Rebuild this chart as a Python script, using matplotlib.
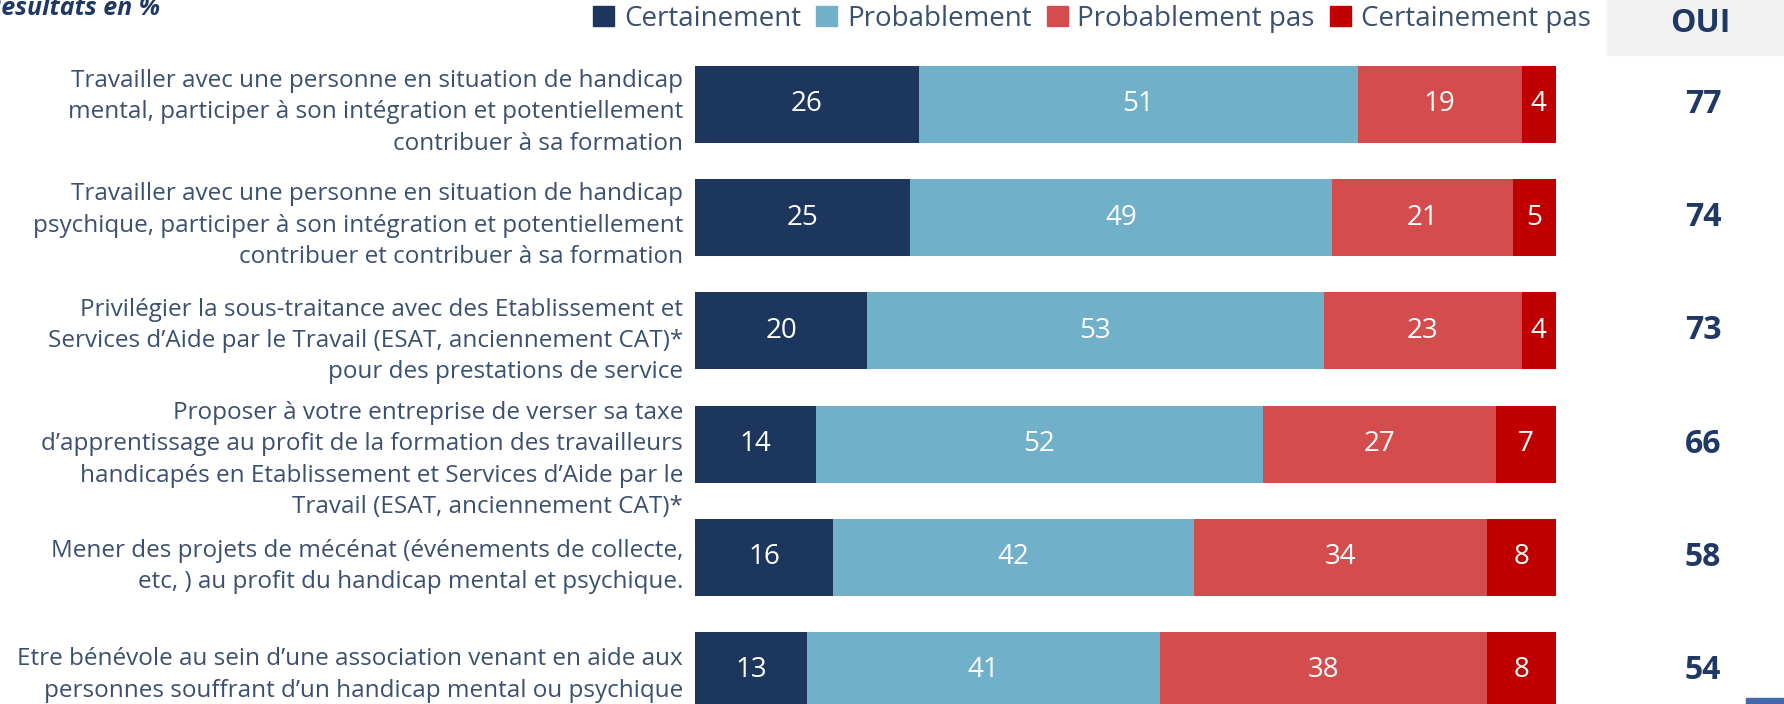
import numpy as np
import matplotlib
matplotlib.use("Agg")
import matplotlib.pyplot as plt
from matplotlib.patches import Patch, Rectangle

plt.rcParams['font.family'] = ['Open Sans', 'DejaVu Sans']

# Data
labels = [
    "Travailler avec une personne en situation de handicap\nmental, participer à son intégration et potentiellement\ncontribuer à sa formation",
    "Travailler avec une personne en situation de handicap\npsychique, participer à son intégration et potentiellement\ncontribuer et contribuer à sa formation",
    "Privilégier la sous-traitance avec des Etablissement et\nServices d’Aide par le Travail (ESAT, anciennement CAT)*\npour des prestations de service",
    "Proposer à votre entreprise de verser sa taxe\nd’apprentissage au profit de la formation des travailleurs\nhandicapés en Etablissement et Services d’Aide par le\nTravail (ESAT, anciennement CAT)*",
    "Mener des projets de mécénat (événements de collecte,\netc, ) au profit du handicap mental et psychique.",
    "Etre bénévole au sein d’une association venant en aide aux\npersonnes souffrant d’un handicap mental ou psychique",
]
series_names = ["Certainement", "Probablement", "Probablement pas", "Certainement pas"]
certainement = [26, 25, 20, 14, 16, 13]
probablement = [51, 49, 53, 52, 42, 41]
probablement_pas = [19, 21, 23, 27, 34, 38]
certainement_pas = [4, 5, 4, 7, 8, 8]
oui = [77, 74, 73, 66, 58, 54]

colors = ["#1C365E", "#70B0C9", "#D54C4C", "#C00000"]
text_col = "#3B4F6E"
navy = "#1F3864"

W, H = 1784, 704
fig = plt.figure(figsize=(W / 100, H / 100), dpi=100)
x0, x1 = 695, 1556
ax = fig.add_axes([x0 / W, 0, (x1 - x0) / W, 1])
ax.set_xlim(0, 100)
ax.set_ylim(5.296, -0.923)
ax.axis("off")

y = np.arange(len(labels))
left = np.zeros(len(labels))
for name, vals, c in zip(series_names,
                         [certainement, probablement, probablement_pas, certainement_pas],
                         colors):
    vals = np.array(vals)
    ax.barh(y, vals, left=left, height=0.68, color=c, label=name)
    for yi, l, v in zip(y, left, vals):
        ax.text(l + v / 2, yi, str(v), ha="center", va="center",
                color="white", fontsize=20)
    left += vals

# small vertical nudges so the label blocks sit like in the slide
label_dy = [0.07, 0.07, 0.09, 0.14, 0.08, 0.04]
for yi, lab, dy in zip(y, labels, label_dy):
    ax.text(-1.4, yi + dy, lab, ha="right", va="center", multialignment="right",
            color=text_col, fontsize=17.5, linespacing=1.4, clip_on=False)

ox = (1703 - x0) / (x1 - x0)
for yi, v in zip(y, oui):
    ax.text(ox, yi, str(v), transform=ax.get_yaxis_transform(), ha="center",
            va="center", color=navy, fontsize=23, fontweight="bold", clip_on=False)

# OUI header box
fig.patches.append(Rectangle((1607 / W, 1 - 55 / H), 177 / W, 55 / H,
                             transform=fig.transFigure, color="#F2F2F2", zorder=0))
fig.text(1700 / W, 1 - 23 / H, "OUI", ha="center", va="center",
         color=navy, fontsize=23, fontweight="bold")

# title, cut at the top
fig.text(-14 / W, 1 - 15 / H, "Résultats en %", ha="left", va="baseline",
         color=navy, fontsize=18, fontweight="bold", style="italic")

# small marker bottom right
fig.patches.append(Rectangle((1746 / W, 0), 38 / W, 6 / H,
                             transform=fig.transFigure, color="#4466AA"))

handles = [Patch(color=c, label=n) for n, c in zip(series_names, colors)]
fig.legend(handles=handles, loc="center", bbox_to_anchor=(1092 / W, 1 - 19 / H),
           ncol=4, frameon=False, fontsize=20, handlelength=0.75, handleheight=0.75,
           handletextpad=0.35, columnspacing=0.55, labelcolor=text_col,
           borderaxespad=0, borderpad=0)

fig.savefig("out.png", dpi=100)
